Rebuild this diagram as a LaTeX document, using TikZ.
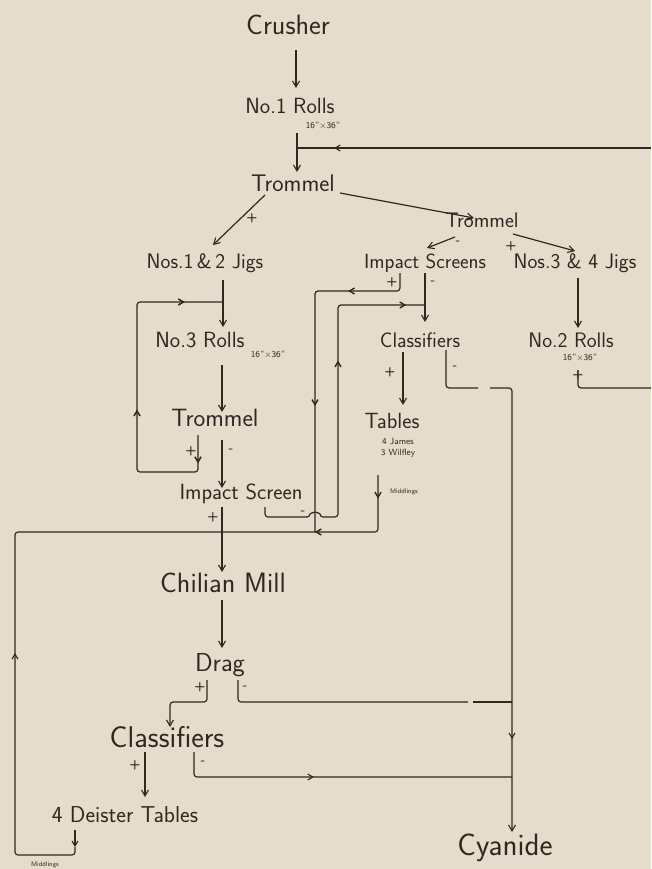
\documentclass[tikz,border=0pt]{standalone}
\usetikzlibrary{arrows.meta,decorations.markings}
\definecolor{paper}{HTML}{E6DCCB}
\definecolor{ink}{HTML}{2E2822}
\tikzset{
  x=1pt, y=-1pt,
  lbl/.style={inner sep=0pt, anchor=center, text=ink, font=\sffamily\fontsize{#1}{#1}\selectfont},
  lbl/.default=22,
  sml/.style={inner sep=0pt, anchor=center, text=ink, font=\sffamily\fontsize{9}{10}\selectfont},
  tiny/.style={inner sep=0pt, anchor=center, text=ink, font=\sffamily\fontsize{6.5}{7}\selectfont},
  sgn/.style={inner sep=0pt, anchor=center, text=ink, font=\sffamily\bfseries\fontsize{13}{13}\selectfont},
  ln/.style={draw=ink, line width=1.2pt, rounded corners=3pt},
  arr/.style={ln, -{Straight Barb[length=6pt,width=7pt,line width=1.1pt]}},
  mid/.style={postaction={decorate}, decoration={markings,
     mark=at position #1 with {\arrow{Straight Barb[length=5pt,width=6pt,line width=1.1pt]}}}},
}
\begin{document}
\begin{tikzpicture}
\fill[paper] (0,0) rectangle (651,869);
\useasboundingbox (0,0) rectangle (651,869);

% nodes
\node[lbl=28] (crusher) at (288,25) {Crusher};
\node[lbl=22] (rolls1) at (290,106) {No.1 Rolls};
\node[sml] (rolls1s) at (323,126) {16"$\times$36"};
\node[lbl=24] (trom1) at (293,183) {Trommel};
\node[lbl=21] (trom2) at (482,220) {Trommel};
\node[lbl=21] (jigs12) at (205,263) {Nos.1\,\&\,2 Jigs};
\node[lbl=20.5] (imps) at (425,263) {Impact Screens};
\node[lbl=21] (jigs34) at (575,263) {Nos.3 \& 4 Jigs};
\node[lbl=22] (rolls3) at (200,340) {No.3 Rolls};
\node[sml] (rolls3s) at (268,355) {16"$\times$36"};
\node[lbl=21] (class1) at (420,340) {Classifiers};
\node[lbl=21] (rolls2) at (571,340) {No.2 Rolls};
\node[sml] (rolls2s) at (580,358) {16"$\times$36"};
\node[lbl=25] (trom3) at (215,418) {Trommel};
\node[lbl=22] (tables) at (392,421) {Tables};
\node[sml] (james) at (398,441) {4 James};
\node[sml] (wilfley) at (398,453) {3 Wilfley};
\node[tiny] (mid1) at (404,492) {Middlings};
\node[lbl=22] (imp) at (241,494) {Impact Screen};
\node[lbl=28] (chile) at (223,583) {Chilian Mill};
\node[lbl=26] (drag) at (220,665) {Drag};
\node[lbl=30] (class2) at (167,737) {Classifiers};
\node[lbl=23] (deister) at (125,815) {4 Deister Tables};
\node[tiny] (mid2) at (45,865) {Middlings};
\node[lbl=31] (cyanide) at (505,848) {Cyanide};

% signs
\node[sgn] at (252,218) {+};
\node[sgn] at (458,243) {-};
\node[sgn] at (511,246) {+};
\node[sgn] at (392,282) {+};
\node[sgn] at (433,283) {-};
\node[sgn] at (191,451) {+};
\node[sgn] at (231,451) {-};
\node[sgn] at (213,517) {+};
\node[sgn] at (303,513) {-};
\node[sgn] at (390,372) {+};
\node[sgn] at (455,368) {-};
\node[sgn] at (578,375) {+};
\node[sgn] at (200,687) {+};
\node[sgn] at (245,688) {-};
\node[sgn] at (135,765) {+};
\node[sgn] at (203,763) {-};

% junction / free-end coordinates
\coordinate (a1) at (296,50);  \coordinate (a2) at (296,88);
\coordinate (b1) at (297,133); \coordinate (b2) at (297,172);
\coordinate (rEdgeTop) at (651,148); \coordinate (bJ) at (297,148);
\coordinate (c1) at (265,195); \coordinate (c2) at (213,245);
\coordinate (d1) at (340,193); \coordinate (d2) at (474,218);
\coordinate (e1) at (455,237); \coordinate (e2) at (427,248);
\coordinate (f1) at (513,234); \coordinate (f2) at (575,251);
\coordinate (g1) at (223,280); \coordinate (g2) at (223,327);
\coordinate (h1) at (198,435); \coordinate (hJ) at (223,302);
\coordinate (i1) at (222,365); \coordinate (i2) at (222,412);
\coordinate (j1) at (222,440); \coordinate (j2) at (222,488);
\coordinate (k1) at (222,507); \coordinate (k2) at (222,572);
\coordinate (kJ) at (222,532);
\coordinate (m1) at (400,273);
\coordinate (n1) at (425,273); \coordinate (n2) at (425,322); \coordinate (nJ) at (425,305);
\coordinate (o1) at (265,507);
\coordinate (p1) at (378,475);
\coordinate (q1) at (403,352); \coordinate (q2) at (403,405);
\coordinate (r1) at (446,350);
\coordinate (s1) at (578,278); \coordinate (s2) at (578,328);
\coordinate (t1) at (578,370); \coordinate (rEdgeMid) at (651,388);
\coordinate (u1) at (222,600); \coordinate (u2) at (222,648);
\coordinate (v1) at (207,680); \coordinate (v2) at (170,727);
\coordinate (w1) at (238,680); \coordinate (cyJ1) at (512,702);
\coordinate (x1) at (145,752); \coordinate (x2) at (145,797);
\coordinate (y1) at (194,752); \coordinate (cyJ2) at (512,777);
\coordinate (z1) at (75,830);
\coordinate (cyTop) at (512,832);

% connectors
\draw[arr] (a1) -- (a2);
\draw[arr] (b1) -- (b2);
\draw[ln, mid=0.895] (rEdgeTop) -- (bJ);
\draw[arr] (c1) -- (c2);
\draw[arr] (d1) -- (d2);
\draw[arr] (e1) -- (e2);
\draw[arr] (f1) -- (f2);
\draw[arr] (g1) -- (g2);
% trommel + loop back to No.3 Rolls
\draw[ln, mid=0.08, mid=0.45, mid=0.89] (h1) -- (198,472) -- (137,472) -- (137,302) -- (hJ);
\draw[arr] (i1) -- (i2);
\draw[arr] (j1) -- (j2);
\draw[arr] (k1) -- (k2);
% Impact Screens + back down
\draw[ln, mid=0.2, mid=0.63] (m1) -- (400,291) -- (315,291) -- (315,532);
% Impact Screens - to classifiers
\draw[arr] (n1) -- (n2);
% Impact Screen - up to classifiers
\draw[ln, mid=0.63, mid=0.95] (o1) -- (265,517) -- (310,517) arc[start angle=180,end angle=360,radius=5] -- (338,517) -- (338,305) -- (nJ);
% tables middlings to Chilian mill feed
\draw[ln, mid=0.11, mid=0.56] (p1) -- (378,532) -- (kJ);
% deister middlings
\draw[ln, -{Straight Barb[length=5pt,width=6pt,line width=1.1pt]}, rounded corners=0pt] (z1) -- (75,847);
\draw[ln, mid=0.45] (75,847) -- (75,855) -- (15,855) -- (15,532) -- (kJ);
\draw[arr] (q1) -- (q2);
% classifiers - to cyanide
\draw[ln] (r1) -- (446,388) -- (478,388);
\draw[arr, mid=0.8] (490,388) -- (512,388) -- (cyTop);
\draw[arr] (s1) -- (s2);
\draw[ln] (t1) -- (578,388) -- (rEdgeMid);
\draw[arr] (u1) -- (u2);
\draw[arr] (v1) -- (207,702) -- (170,702) -- (v2);
\draw[ln] (w1) -- (238,702) -- (468,702);
\draw[ln] (473,702) -- (cyJ1);
\draw[arr] (x1) -- (x2);
\draw[ln, mid=0.42] (y1) -- (194,777) -- (cyJ2);
\end{tikzpicture}
\end{document}
